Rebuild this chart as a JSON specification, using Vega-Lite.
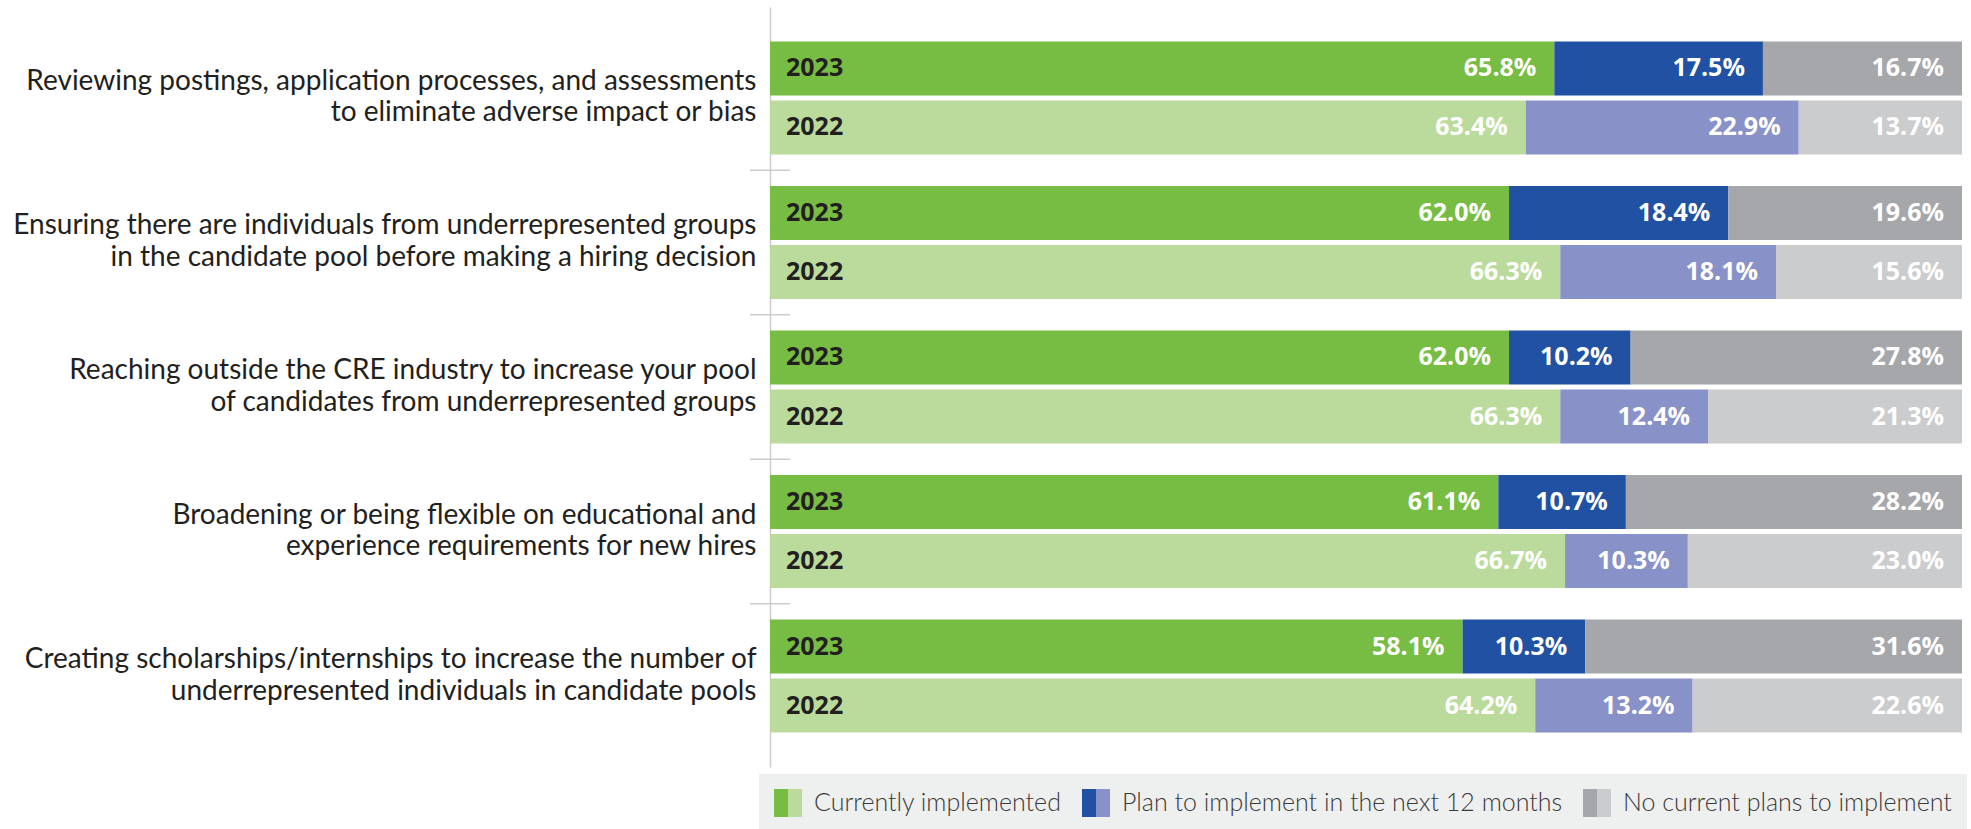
{
  "$schema": "https://vega.github.io/schema/vega-lite/v6.json",
  "width": 1192,
  "height": 760,
  "autosize": {"type": "none"},
  "padding": {"left": 770, "top": 7, "right": 9, "bottom": 62},
  "background": "white",
  "config": {"view": {"stroke": null}},
  "data": {
    "values": [
      {"category": "Reviewing postings, application processes, and assessments|to eliminate adverse impact or bias", "year": "2023", "status": "Currently implemented", "value": 0.658},
      {"category": "Reviewing postings, application processes, and assessments|to eliminate adverse impact or bias", "year": "2023", "status": "Plan to implement in the next 12 months", "value": 0.175},
      {"category": "Reviewing postings, application processes, and assessments|to eliminate adverse impact or bias", "year": "2023", "status": "No current plans to implement", "value": 0.167},
      {"category": "Reviewing postings, application processes, and assessments|to eliminate adverse impact or bias", "year": "2022", "status": "Currently implemented", "value": 0.634},
      {"category": "Reviewing postings, application processes, and assessments|to eliminate adverse impact or bias", "year": "2022", "status": "Plan to implement in the next 12 months", "value": 0.229},
      {"category": "Reviewing postings, application processes, and assessments|to eliminate adverse impact or bias", "year": "2022", "status": "No current plans to implement", "value": 0.137},
      {"category": "Ensuring there are individuals from underrepresented groups|in the candidate pool before making a hiring decision", "year": "2023", "status": "Currently implemented", "value": 0.620},
      {"category": "Ensuring there are individuals from underrepresented groups|in the candidate pool before making a hiring decision", "year": "2023", "status": "Plan to implement in the next 12 months", "value": 0.184},
      {"category": "Ensuring there are individuals from underrepresented groups|in the candidate pool before making a hiring decision", "year": "2023", "status": "No current plans to implement", "value": 0.196},
      {"category": "Ensuring there are individuals from underrepresented groups|in the candidate pool before making a hiring decision", "year": "2022", "status": "Currently implemented", "value": 0.663},
      {"category": "Ensuring there are individuals from underrepresented groups|in the candidate pool before making a hiring decision", "year": "2022", "status": "Plan to implement in the next 12 months", "value": 0.181},
      {"category": "Ensuring there are individuals from underrepresented groups|in the candidate pool before making a hiring decision", "year": "2022", "status": "No current plans to implement", "value": 0.156},
      {"category": "Reaching outside the CRE industry to increase your pool|of candidates from underrepresented groups", "year": "2023", "status": "Currently implemented", "value": 0.620},
      {"category": "Reaching outside the CRE industry to increase your pool|of candidates from underrepresented groups", "year": "2023", "status": "Plan to implement in the next 12 months", "value": 0.102},
      {"category": "Reaching outside the CRE industry to increase your pool|of candidates from underrepresented groups", "year": "2023", "status": "No current plans to implement", "value": 0.278},
      {"category": "Reaching outside the CRE industry to increase your pool|of candidates from underrepresented groups", "year": "2022", "status": "Currently implemented", "value": 0.663},
      {"category": "Reaching outside the CRE industry to increase your pool|of candidates from underrepresented groups", "year": "2022", "status": "Plan to implement in the next 12 months", "value": 0.124},
      {"category": "Reaching outside the CRE industry to increase your pool|of candidates from underrepresented groups", "year": "2022", "status": "No current plans to implement", "value": 0.213},
      {"category": "Broadening or being flexible on educational and|experience requirements for new hires", "year": "2023", "status": "Currently implemented", "value": 0.611},
      {"category": "Broadening or being flexible on educational and|experience requirements for new hires", "year": "2023", "status": "Plan to implement in the next 12 months", "value": 0.107},
      {"category": "Broadening or being flexible on educational and|experience requirements for new hires", "year": "2023", "status": "No current plans to implement", "value": 0.282},
      {"category": "Broadening or being flexible on educational and|experience requirements for new hires", "year": "2022", "status": "Currently implemented", "value": 0.667},
      {"category": "Broadening or being flexible on educational and|experience requirements for new hires", "year": "2022", "status": "Plan to implement in the next 12 months", "value": 0.103},
      {"category": "Broadening or being flexible on educational and|experience requirements for new hires", "year": "2022", "status": "No current plans to implement", "value": 0.230},
      {"category": "Creating scholarships/internships to increase the number of|underrepresented individuals in candidate pools", "year": "2023", "status": "Currently implemented", "value": 0.581},
      {"category": "Creating scholarships/internships to increase the number of|underrepresented individuals in candidate pools", "year": "2023", "status": "Plan to implement in the next 12 months", "value": 0.103},
      {"category": "Creating scholarships/internships to increase the number of|underrepresented individuals in candidate pools", "year": "2023", "status": "No current plans to implement", "value": 0.316},
      {"category": "Creating scholarships/internships to increase the number of|underrepresented individuals in candidate pools", "year": "2022", "status": "Currently implemented", "value": 0.642},
      {"category": "Creating scholarships/internships to increase the number of|underrepresented individuals in candidate pools", "year": "2022", "status": "Plan to implement in the next 12 months", "value": 0.132},
      {"category": "Creating scholarships/internships to increase the number of|underrepresented individuals in candidate pools", "year": "2022", "status": "No current plans to implement", "value": 0.226}
    ]
  },
  "transform": [
    {"calculate": "indexof(['Currently implemented','Plan to implement in the next 12 months','No current plans to implement'], datum.status)", "as": "order"},
    {"calculate": "datum.status + ' ' + datum.year", "as": "key"},
    {"stack": "value", "groupby": ["category", "year"], "sort": [{"field": "order", "order": "ascending"}], "as": ["x0", "x1"]}
  ],
  "encoding": {
    "y": {
      "field": "category",
      "type": "nominal",
      "sort": null,
      "scale": {"paddingInner": 0.218, "paddingOuter": 0.2387},
      "axis": {
        "title": null,
        "ticks": false,
        "grid": false,
        "domain": true,
        "domainColor": "#cccccc",
        "domainWidth": 1.5,
        "labelPadding": 14,
        "labelFont": "Lato",
        "labelFontSize": 28,
        "labelColor": "#231f20",
        "labelLineHeight": 31.5,
        "labelLimit": 900,
        "labelAlign": "right",
        "labelBaseline": "middle",
        "labelOffset": -16,
        "labelExpr": "split(datum.label, '|')"
      }
    }
  },
  "layer": [
    {
      "mark": {"type": "bar"},
      "encoding": {
        "x": {"field": "x0", "type": "quantitative", "scale": {"domain": [0, 1]}, "axis": null},
        "x2": {"field": "x1"},
        "yOffset": {"field": "year", "type": "nominal", "sort": ["2023", "2022"], "scale": {"paddingInner": 0.085, "paddingOuter": 0}},
        "color": {
          "field": "key",
          "type": "nominal",
          "scale": {
            "domain": ["Currently implemented 2023", "Plan to implement in the next 12 months 2023", "No current plans to implement 2023", "Currently implemented 2022", "Plan to implement in the next 12 months 2022", "No current plans to implement 2022"],
            "range": ["#77bc43", "#2151a2", "#a5a7aa", "#bbdb9d", "#8891c8", "#cbcccd"]
          },
          "legend": null
        }
      }
    },
    {
      "transform": [{"filter": "datum.status == 'Currently implemented' && datum.year == '2023' && indexof(datum.category, 'Creating') != 0"}],
      "mark": {"type": "rule", "color": "#cccccc", "strokeWidth": 1.5},
      "encoding": {
        "y": {"field": "category", "type": "nominal", "sort": null, "bandPosition": 1.139},
        "x": {"datum": -0.0168, "type": "quantitative"},
        "x2": {"datum": 0.0168}
      }
    },
    {
      "transform": [{"filter": "datum.status == 'Currently implemented'"}],
      "mark": {"type": "text", "align": "left", "baseline": "middle", "dx": 16, "font": "Open Sans", "fontWeight": "bold", "fontSize": 25, "color": "#231f20"},
      "encoding": {
        "x": {"datum": 0, "type": "quantitative"},
        "yOffset": {"field": "year", "type": "nominal", "sort": ["2023", "2022"], "scale": {"paddingInner": 0.085, "paddingOuter": 0}},
        "text": {"field": "year"}
      }
    },
    {
      "mark": {"type": "text", "align": "right", "baseline": "middle", "dx": -18, "font": "Open Sans", "fontWeight": "bold", "fontSize": 25, "color": "white"},
      "encoding": {
        "x": {"field": "x1", "type": "quantitative"},
        "yOffset": {"field": "year", "type": "nominal", "sort": ["2023", "2022"], "scale": {"paddingInner": 0.085, "paddingOuter": 0}},
        "text": {"field": "value", "format": ".1%"}
      }
    },
    {
      "transform": [{"filter": "false"}],
      "mark": {"type": "square", "opacity": 1, "filled": true},
      "encoding": {
        "color": {
          "field": "status",
          "type": "nominal",
          "scale": {"domain": ["Currently implemented", "Plan to implement in the next 12 months", "No current plans to implement"], "range": ["#77bc43", "#2151a2", "#a5a7aa"]},
          "legend": {
            "title": null, "orient": "none", "legendX": -11, "legendY": 767, "direction": "horizontal",
            "symbolType": "M-1,-1H0V1H-1Z", "symbolSize": 784, "symbolStrokeWidth": 0, "symbolOpacity": 1,
            "labelOpacity": 0, "labelFont": "Lato", "labelFontWeight": 300, "labelFontSize": 25, "labelOffset": 12, "labelLimit": 700,
            "columnPadding": 20, "fillColor": "#eeefef", "padding": 15
          }
        }
      }
    },
    {
      "transform": [{"filter": "false"}],
      "mark": {"type": "square", "opacity": 1, "filled": true},
      "encoding": {
        "color": {
          "field": "status",
          "type": "nominal",
          "scale": {"domain": ["Currently implemented", "Plan to implement in the next 12 months", "No current plans to implement"], "range": ["#bbdb9d", "#8891c8", "#cbcccd"]},
          "legend": {
            "title": null, "orient": "none", "legendX": -11, "legendY": 767, "direction": "horizontal",
            "symbolType": "M0,-1H1V1H0Z", "symbolSize": 784, "symbolStrokeWidth": 0, "symbolOpacity": 1,
            "labelFont": "Lato", "labelFontWeight": 300, "labelFontSize": 25, "labelOffset": 12, "labelLimit": 700, "labelColor": "#3a3a3a",
            "columnPadding": 20, "padding": 15
          }
        }
      }
    }
  ],
  "resolve": {"scale": {"color": "independent"}}
}
